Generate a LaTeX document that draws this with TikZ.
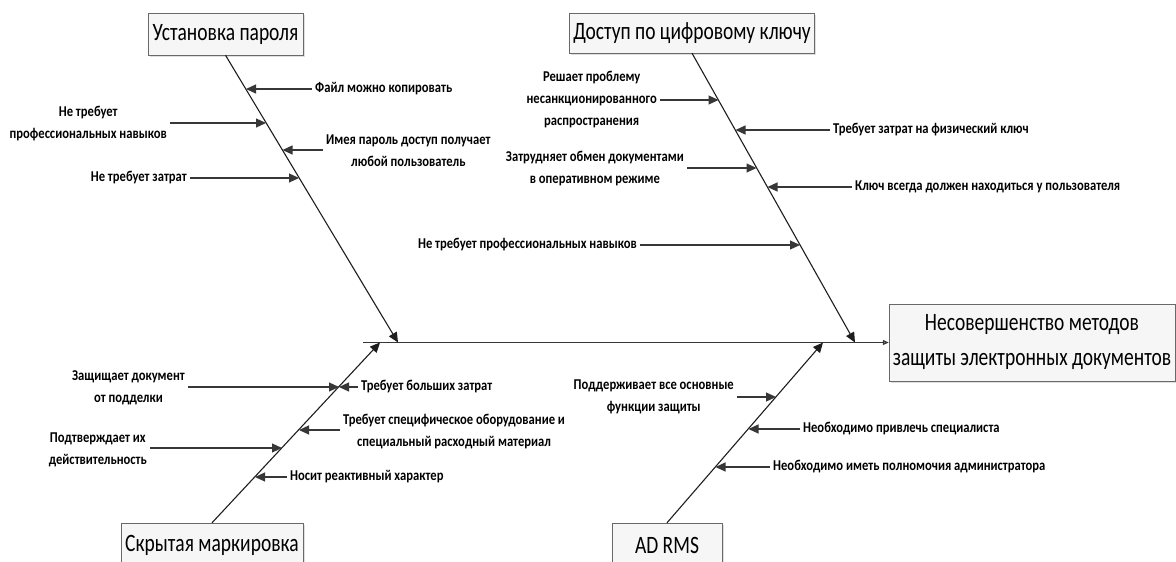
\documentclass[tikz,border=0pt]{standalone}
\usepackage{fontspec}
\setmainfont{Carlito}[FakeStretch=0.78]
\newfontfamily\notefont{Carlito}[FakeStretch=0.84]
\usetikzlibrary{arrows.meta,positioning,shadows}
\definecolor{boxline}{RGB}{105,105,105}
\definecolor{boxfill}{RGB}{246,246,246}
\definecolor{bonecolor}{RGB}{30,30,30}
\definecolor{causecolor}{RGB}{55,55,55}

\begin{document}
\begin{tikzpicture}[x=1pt,y=-1pt,
  head/.style={rectangle,draw=boxline,fill=boxfill,inner sep=0pt,
    drop shadow={opacity=0.25,shadow xshift=1.5pt,shadow yshift=-1.5pt},
    font=\fontsize{25}{28}\selectfont},
  effect/.style={head,align=center,font=\fontsize{25}{35}\selectfont},
  note/.style={align=center,inner sep=3pt,font=\notefont\bfseries\fontsize{15}{22}\selectfont},
  bone/.style={draw=bonecolor,line width=1.1pt,-{Triangle[length=10pt,width=9pt]}},
  cause/.style={draw=causecolor,line width=1.2pt,-{Triangle[length=10pt,width=9pt]}},
  spine/.style={draw=causecolor,line width=1.1pt,-{Triangle[length=6pt,width=5pt,fill=gray]}}
]
  \useasboundingbox (0,0) rectangle (1176,562);

  % effect and causes
  \node[effect,minimum width=286pt,minimum height=77pt] (effect) at (1032,342.5)
    {Несовершенство методов\\защиты электронных документов};
  \node[head,minimum width=155pt,minimum height=42pt] (setpw) at (225.5,34) {Установка пароля};
  \node[head,minimum width=245pt,minimum height=40pt] (dkey) at (692,33) {Доступ по цифровому ключу};
  \node[head,minimum width=182pt,minimum height=44pt] (mark) at (212,545) {Скрытая маркировка};
  \node[head,minimum width=110pt,minimum height=44pt] (adrms) at (667,545) {AD RMS};

  % spine and bones
  \coordinate (spinestart) at (363,342.5);
  \draw[spine] (spinestart) -- (effect.west);
  \coordinate (setpwend) at (398,342.5);
  \coordinate (dkeyend) at (855,342.5);
  \coordinate (markend) at (380,342.5);
  \coordinate (adrmsend) at (823,342.5);
  \draw[bone] (setpw.south) -- (setpwend);
  \draw[bone] (dkey.south) -- (dkeyend);
  \draw[bone] (mark.north) -- (markend);
  \draw[bone] (adrms.north) -- (adrmsend);

  % Установка пароля
  \coordinate (pw1) at (246,89);
  \coordinate (pw2) at (266,123);
  \coordinate (pw3) at (282.5,150);
  \coordinate (pw4) at (299,178);
  \node[note,anchor=west] (pw1txt) at (312,89) {Файл можно копировать};
  \node[note,anchor=east] (pw2txt) at (170,124) {Не требует\\профессиональных навыков};
  \node[note,anchor=west] (pw3txt) at (323,151) {Имея пароль доступ получает\\любой пользователь};
  \node[note,anchor=east] (pw4txt) at (190,178) {Не требует затрат};
  \draw[cause] (pw1txt.west |- pw1) -- (pw1);
  \draw[cause] (pw2txt.east |- pw2) -- (pw2);
  \draw[cause] (pw3txt.west |- pw3) -- (pw3);
  \draw[cause] (pw4txt.east |- pw4) -- (pw4);

  % Доступ по цифровому ключу
  \coordinate (dk1) at (718.5,100);
  \coordinate (dk2) at (735.5,130);
  \coordinate (dk3) at (756.5,168);
  \coordinate (dk4) at (767.5,187);
  \coordinate (dk5) at (800,245);
  \node[note,anchor=east] (dk1txt) at (660,100) {Решает проблему\\несанкционированного\\распространения};
  \node[note,anchor=west] (dk2txt) at (830,130) {Требует затрат на физический ключ};
  \node[note,anchor=east] (dk3txt) at (687,169) {Затрудняет обмен документами\\в оперативном режиме};
  \node[note,anchor=west] (dk4txt) at (852,187) {Ключ всегда должен находиться у пользователя};
  \node[note,anchor=east] (dk5txt) at (640,245) {Не требует профессиональных навыков};
  \draw[cause] (dk1txt.east |- dk1) -- (dk1);
  \draw[cause] (dk2txt.west |- dk2) -- (dk2);
  \draw[cause] (dk3txt.east |- dk3) -- (dk3);
  \draw[cause] (dk4txt.west |- dk4) -- (dk4);
  \draw[cause] (dk5txt.east |- dk5) -- (dk5);

  % Скрытая маркировка
  \coordinate (mk1) at (339,387);
  \coordinate (mk3) at (299,430);
  \coordinate (mk4) at (282,448);
  \coordinate (mk5) at (255,477);
  \node[note,anchor=east] (mk1txt) at (188,388) {Защищает документ\\от подделки};
  \node[note,anchor=west] (mk2txt) at (358,387) {Требует больших затрат};
  \node[note,anchor=west] (mk3txt) at (340,432) {Требует специфическое оборудование и\\специальный расходный материал};
  \node[note,anchor=east] (mk4txt) at (150,450) {Подтверждает их\\действительность};
  \node[note,anchor=west] (mk5txt) at (287,477) {Носит реактивный характер};
  \draw[cause] (mk1txt.east |- mk1) -- (mk1);
  \draw[cause] (mk2txt.west |- mk1) -- (mk1);
  \draw[cause] (mk3txt.west |- mk3) -- (mk3);
  \draw[cause] (mk4txt.east |- mk4) -- (mk4);
  \draw[cause] (mk5txt.west |- mk5) -- (mk5);

  % AD RMS
  \coordinate (ad1) at (776,397);
  \coordinate (ad2) at (748.5,429);
  \coordinate (ad3) at (715.5,467);
  \node[note,anchor=east] (ad1txt) at (737,397) {Поддерживает все основные\\функции защиты};
  \node[note,anchor=west] (ad2txt) at (800,429) {Необходимо привлечь специалиста};
  \node[note,anchor=west] (ad3txt) at (770,467) {Необходимо иметь полномочия администратора};
  \draw[cause] (ad1txt.east |- ad1) -- (ad1);
  \draw[cause] (ad2txt.west |- ad2) -- (ad2);
  \draw[cause] (ad3txt.west |- ad3) -- (ad3);
\end{tikzpicture}
\end{document}
